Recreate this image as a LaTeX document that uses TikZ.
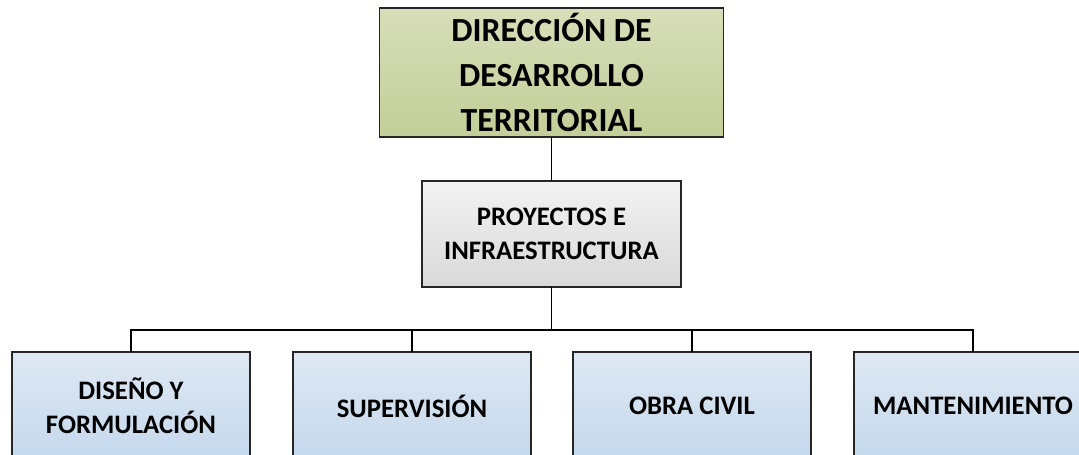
\documentclass[tikz,border=0pt]{standalone}
\usepackage{fontspec}
\setmainfont{Carlito}
\usepackage{xcolor}
\definecolor{dirtop}{RGB}{215,222,185}
\definecolor{dirbot}{RGB}{195,206,152}
\definecolor{protop}{RGB}{243,243,243}
\definecolor{probot}{RGB}{216,216,216}
\definecolor{areatop}{RGB}{223,232,243}
\definecolor{areabot}{RGB}{196,216,236}

\begin{document}
\begin{tikzpicture}[x=0.025cm,y=-0.025cm,line cap=rect,
  unitbox/.style={draw=black!85,line width=1.3pt,align=center,inner sep=0pt,
    font=\bfseries\fontsize{19}{24}\selectfont},
  dirbox/.style={unitbox,top color=dirtop,bottom color=dirbot,
    minimum width=8.6cm,minimum height=3.22cm,font=\bfseries\fontsize{24}{32}\selectfont},
  probox/.style={unitbox,top color=protop,bottom color=probot,
    minimum width=6.47cm,minimum height=2.65cm},
  areabox/.style={unitbox,top color=areatop,bottom color=areabot,
    minimum width=5.95cm,minimum height=2.7cm},
  link/.style={black,line width=1.1pt}]
\useasboundingbox (0,0) rectangle (1079,454);
\begin{scope}
\clip (0,0) rectangle (1079,454);
\node[dirbox] (dir) at (551.5,72.5) {DIRECCIÓN DE\\DESARROLLO\\TERRITORIAL};
\node[probox] (pro) at (551.5,234) {PROYECTOS E\\INFRAESTRUCTURA};
\node[areabox] (dis) at (131,406) {DISEÑO Y\\FORMULACIÓN};
\node[areabox] (sup) at (412,406) {SUPERVISIÓN};
\node[areabox] (obr) at (692,406) {OBRA CIVIL};
\node[areabox] (man) at (973,406) {MANTENIMIENTO};
\coordinate (bus) at (551.5,330);
% connectors
\draw[link] (dir.south) -- (pro.north);
\draw[link] (pro.south) -- (bus);
\draw[link] (dis.north) |- (bus) -| (man.north);
\draw[link] (sup.north) -- (sup.north |- bus);
\draw[link] (obr.north) -- (obr.north |- bus);
\end{scope}
\end{tikzpicture}
\end{document}
